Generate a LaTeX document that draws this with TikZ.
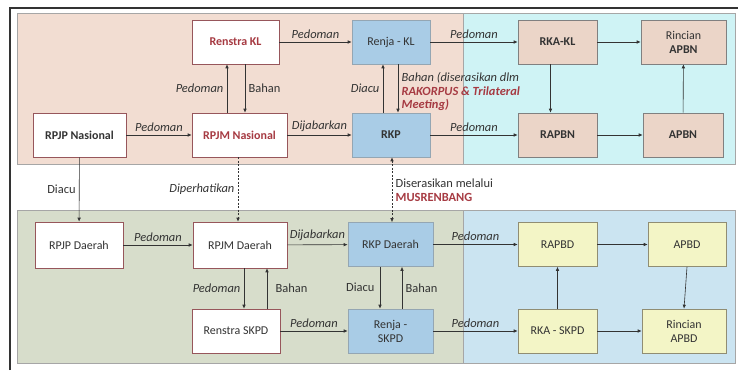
\documentclass[tikz,border=0pt]{standalone}
\usepackage{fontspec}
\setmainfont{Carlito}
\usetikzlibrary{arrows.meta}

\definecolor{latarA}{HTML}{F2DDD2}
\definecolor{latarB}{HTML}{CFF3F5}
\definecolor{latarC}{HTML}{D7DDCB}
\definecolor{latarD}{HTML}{CBE4F1}
\definecolor{biru}{HTML}{A9CCE6}
\definecolor{krem}{HTML}{EBD5C8}
\definecolor{kuning}{HTML}{F3F5C6}
\definecolor{merah}{HTML}{A63A42}
\definecolor{teks}{HTML}{333333}

\begin{document}
\begin{tikzpicture}[x=1bp, y=-1bp, >={Latex[length=4pt,width=3.5pt]},
		kotak/.style={draw, minimum height=44bp, inner sep=2pt, align=center,
				text=teks, font=\fontsize{12}{14}\selectfont},
		putih/.style={kotak, fill=white, draw=merah!60!gray, line width=0.6pt},
		biru/.style={kotak, fill=biru, draw=biru!50!gray, line width=0.6pt},
		krem/.style={kotak, fill=krem, draw=gray, line width=0.6pt},
		kuning/.style={kotak, fill=kuning, draw=gray!80!olive, line width=0.6pt},
		tebal/.style={font=\fontsize{12}{14}\selectfont\bfseries},
		panah/.style={->, draw=teks, line width=0.6pt},
		ket/.style={text=teks, font=\fontsize{12.5}{14}\selectfont\itshape},
		ketb/.style={text=teks, font=\fontsize{12.5}{14}\selectfont},
		putus/.style={panah, dash pattern=on 2pt off 1.5pt}]

		\useasboundingbox (0,0) rectangle (738,370);

		% Bingkai dan latar
		\draw[line width=1.2pt, draw=black!80] (10,370) -- (10,8) -- (738,8);
		\fill[latarA, draw=gray!70] (17,13) rectangle (463,164);
		\fill[latarB, draw=gray!70] (463,13) rectangle (735,164);
		\fill[latarC, draw=gray!70] (17,210) rectangle (463,363);
		\fill[latarD, draw=gray!70] (463,210) rectangle (735,363);

		% Tingkat nasional
		\node[putih, tebal, minimum width=87bp, text=merah] (renstrakl) at (235.5,42) {Renstra KL};
		\node[putih, tebal, minimum width=93bp] (rpjpn) at (79.5,135) {RPJP Nasional};
		\node[putih, tebal, minimum width=95bp, text=merah] (rpjmn) at (239.5,135) {RPJM Nasional};
		\node[biru, minimum width=78bp] (renjakl) at (391,42) {Renja - KL};
		\node[biru, tebal, minimum width=78bp] (rkp) at (391,135) {RKP};
		\node[krem, tebal, minimum width=79bp] (rkakl) at (557.5,42) {RKA-KL};
		\node[krem, minimum width=85bp] (rincianapbn) at (683.5,42) {Rincian\\ \textbf{APBN}};
		\node[krem, tebal, minimum width=79bp] (rapbn) at (557.5,135) {RAPBN};
		\node[krem, tebal, minimum width=80bp] (apbn) at (683,135) {APBN};

		% Tingkat daerah
		\node[putih, minimum width=88bp, minimum height=46bp] (rpjpd) at (79,245) {RPJP Daerah};
		\node[putih, minimum width=94bp, minimum height=46bp] (rpjmd) at (240,245) {RPJM Daerah};
		\node[putih, minimum width=88bp] (renstraskpd) at (236,331) {Renstra SKPD};
		\node[biru, minimum width=85bp] (rkpd) at (390.5,244.5) {RKP Daerah};
		\node[biru, minimum width=85bp] (renjaskpd) at (390.5,331) {Renja -\\ SKPD};
		\node[kuning, minimum width=79bp] (rapbd) at (557.5,244.5) {RAPBD};
		\node[kuning, minimum width=78bp] (apbd) at (687,244.5) {APBD};
		\node[kuning, minimum width=79bp] (rkaskpd) at (557.5,331) {RKA - SKPD};
		\node[kuning, minimum width=84bp] (rincianapbd) at (684,331) {Rincian\\ APBD};

		% Panah nasional
		\draw[panah] (renstrakl) -- (renjakl) node[midway, above, ket] {Pedoman};
		\draw[panah] (rpjpn) -- (rpjmn) node[midway, above, ket] {Pedoman};
		\draw[panah] (rpjmn) -- (rkp) node[midway, above, ket] {Dijabarkan};
		\draw[panah] ([xshift=-12.5bp]rpjmn.north) -- ([xshift=-12.5bp]rpjmn.north |- renstrakl.south)
			node[midway, left, ket] {Pedoman};
		\draw[panah] ([xshift=5.5bp]rpjmn.north |- renstrakl.south) -- ([xshift=5.5bp]rpjmn.north)
			node[midway, right, ketb] {Bahan};
		\draw[panah] ([xshift=-8bp]rkp.north) -- ([xshift=-8bp]renjakl.south)
			node[midway, left, ket] {Diacu};
		\draw[panah] ([xshift=7bp]renjakl.south) -- ([xshift=7bp]rkp.north)
			node[midway, right, ket, align=left, yshift=-3bp] {Bahan (diserasikan dlm\\
				\textcolor{merah}{\bfseries RAKORPUS \& Trilateral}\\
				\textcolor{merah}{\bfseries Meeting)}};
		\draw[panah] (renjakl) -- (rkakl) node[midway, above, ket] {Pedoman};
		\draw[panah] (rkakl) -- (rincianapbn);
		\draw[panah] ([xshift=-7bp]rkakl.south) -- ([xshift=-7bp]rapbn.north);
		\draw[panah] (rkp) -- (rapbn) node[midway, above, ket] {Pedoman};
		\draw[panah] (rapbn) -- (apbn);
		\draw[panah] (apbn) -- (rincianapbn);

		% Panah antar tingkat
		\draw[panah] (rpjpn) -- (rpjpd) node[midway, left, ketb] {Diacu};
		\draw[putus] ([xshift=-1.5bp]rpjmn.south) -- ([xshift=-1.5bp]rpjmn.south |- rpjmd.north)
			node[midway, left, ket] {Diperhatikan};
		\draw[putus, <->] ([xshift=1bp]rkp.south) -- ([xshift=1bp]rkp.south |- rkpd.north)
			node[midway, right, ketb, align=left] {Diserasikan melalui\\
				\textcolor{merah}{\bfseries MUSRENBANG}};

		% Panah daerah
		\draw[panah] (rpjpd) -- (rpjmd) node[midway, above, ket] {Pedoman};
		\draw[panah] (rpjmd) -- (rkpd) node[midway, above, ket] {Dijabarkan};
		\draw[panah] ([xshift=4bp]rpjmd.south) -- ([xshift=4bp]rpjmd.south |- renstraskpd.north)
			node[midway, left, ket] {Pedoman};
		\draw[panah] ([xshift=27bp]rpjmd.south |- renstraskpd.north) -- ([xshift=27bp]rpjmd.south)
			node[midway, right, ketb, xshift=5bp] {Bahan};
		\draw[panah] ([xshift=-10.5bp]rkpd.south) -- ([xshift=-10.5bp]renjaskpd.north)
			node[midway, left, ketb, xshift=-2bp] {Diacu};
		\draw[panah] ([xshift=11.5bp]renjaskpd.north) -- ([xshift=11.5bp]rkpd.south)
			node[midway, right, ketb] {Bahan};
		\draw[panah] (renstraskpd) -- (renjaskpd) node[midway, above, ket] {Pedoman};
		\draw[panah] (rkpd) -- (rapbd) node[midway, above, ket] {Pedoman};
		\draw[panah] (renjaskpd) -- (rkaskpd) node[midway, above, ket] {Pedoman};
		\draw[panah] (rapbd) -- (apbd);
		\draw[panah] (rkaskpd) -- (rapbd);
		\draw[panah] (apbd.south) -- (rincianapbd.north);
		\draw[panah] (rkaskpd) -- (rincianapbd);
	\end{tikzpicture}
\end{document}
